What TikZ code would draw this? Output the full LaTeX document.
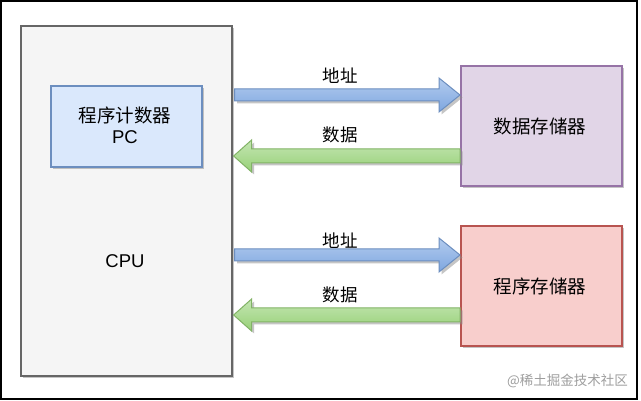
\documentclass[tikz,border=0pt]{standalone}
\usepackage{fontspec}
\setmainfont{Noto Sans CJK SC}
\newfontfamily\lat{Liberation Sans}
\usetikzlibrary{shadows,calc}
\definecolor{cpufill}{HTML}{F5F5F5}
\definecolor{cpuline}{HTML}{666666}
\definecolor{pcfill}{HTML}{DAE8FC}
\definecolor{pcline}{HTML}{6C8EBF}
\definecolor{dfill}{HTML}{E1D5E7}
\definecolor{dline}{HTML}{9673A6}
\definecolor{pfill}{HTML}{F8CECC}
\definecolor{pline}{HTML}{B85450}
\definecolor{btop}{HTML}{B3CCEE}
\definecolor{bbot}{HTML}{7EA6E0}
\definecolor{gtop}{HTML}{C4E6B3}
\definecolor{gbot}{HTML}{97D077}
\definecolor{gline}{HTML}{82B366}
\tikzset{
  shad/.style={drop shadow={shadow xshift=2.5pt,shadow yshift=-2.5pt,fill=black!45,opacity=0.5}},
  box/.style={shad,draw,line width=1.6pt,anchor=north west,inner sep=0pt},
  lbl/.style={font=\fontsize{17.5}{20}\selectfont},
  blk/.style={font=\fontsize{18.5}{22}\selectfont},
  barrow/.style={shad,draw=pcline,line width=1pt,top color=btop,bottom color=bbot,line join=miter},
  garrow/.style={shad,draw=gline,line width=1pt,top color=gtop,bottom color=gbot,line join=miter},
}
\begin{document}
\begin{tikzpicture}[x=1pt,y=-1pt]
\useasboundingbox (0,0) rectangle (641,401);
\fill[white] (0,0) rectangle (641,401);
\draw[line width=2pt,black] (1,1) rectangle (637,399);
% boxes
\node[box,draw=cpuline,fill=cpufill,minimum width=211pt,minimum height=350pt] (cpu) at (20,25) {};
\node[box,draw=pcline,fill=pcfill,minimum width=151pt,minimum height=81pt] (pc) at (50,85) {};
\node[box,draw=dline,fill=dfill,minimum width=161pt,minimum height=120pt] (dmem) at (460,65) {};
\node[box,draw=pline,fill=pfill,minimum width=161pt,minimum height=120pt] (pmem) at (460,225) {};
% texts
\node[blk] (pct) at (125,115) {程序计数器};
\node[blk] (pcl) at (125,137) {\lat PC};
\node[blk] (cput) at (125,261) {\lat CPU};
\node[blk] (dmt) at (540,126) {数据存储器};
\node[blk] (pmt) at (540,286) {程序存储器};
% arrows
\foreach \yy/\nm in {95/a1,255/a2}{
  \coordinate (s\nm) at (cpu.east |- 0,\yy);
  \coordinate (t\nm) at (dmem.west |- 0,\yy);
  \path[barrow] ($(s\nm)+(2,-6)$) -- ($(t\nm)+(-21,-6)$) -- ($(t\nm)+(-21,-17)$) -- (t\nm)
    -- ($(t\nm)+(-21,17)$) -- ($(t\nm)+(-21,6)$) -- ($(s\nm)+(2,6)$) -- cycle;
}
\foreach \yy/\nm in {156/b1,315/b2}{
  \coordinate (s\nm) at (dmem.west |- 0,\yy);
  \coordinate (t\nm) at (cpu.east |- 0,\yy);
  \path[garrow] ($(s\nm)+(0,-7)$) -- ($(t\nm)+(19,-7)$) -- ($(t\nm)+(19,-16)$) -- ($(t\nm)+(1,0)$)
    -- ($(t\nm)+(19,16)$) -- ($(t\nm)+(19,7)$) -- ($(s\nm)+(0,7)$) -- cycle;
}
\node[lbl] (l1) at (340,76) {地址};
\node[lbl] (l2) at (340,135) {数据};
\node[lbl] (l3) at (340,241) {地址};
\node[lbl] (l4) at (340,295) {数据};
\node[font=\fontsize{13.5}{16}\selectfont,text=black!38] (wm) at (567.5,381) {@稀土掘金技术社区};
\end{tikzpicture}
\end{document}
